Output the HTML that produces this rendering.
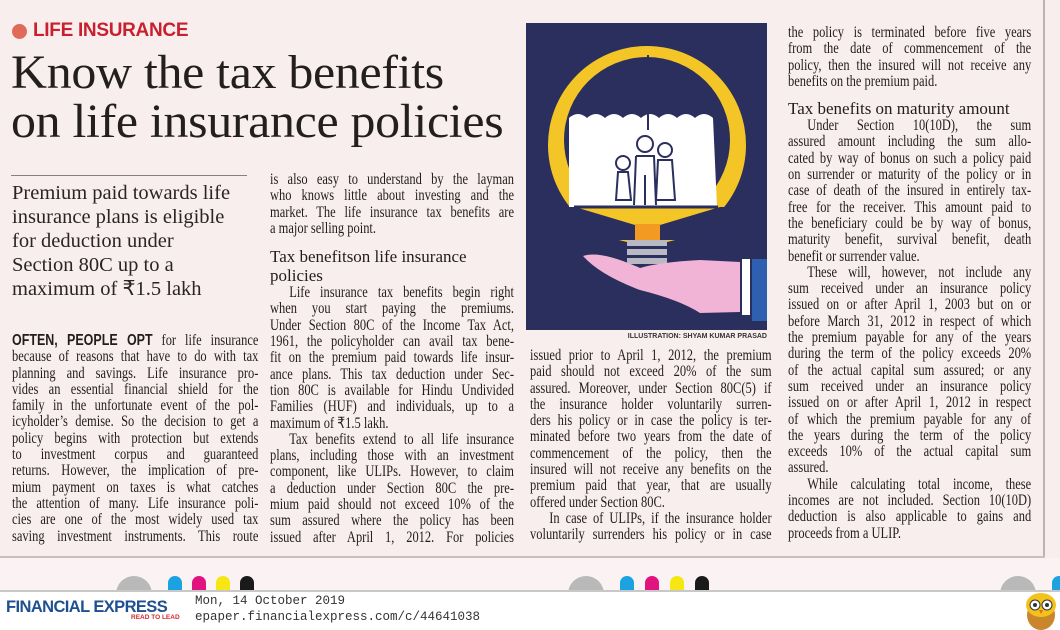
<!DOCTYPE html>
<html><head><meta charset="utf-8"><style>
*{margin:0;padding:0;box-sizing:border-box}
body{width:1060px;height:630px;overflow:hidden;background:#f9eeee;position:relative;font-family:"Liberation Serif",serif;color:#2a2424}
.abs{position:absolute}
.col{position:absolute;transform:scaleX(0.8);transform-origin:0 0;font-size:15.6px;line-height:16.3px;color:#221c1c}
.col div{white-space:nowrap}
.j{text-align:justify;text-align-last:justify}
.ind{text-indent:24px}
h1{position:absolute;left:11px;top:48px;font-weight:normal;font-size:48px;line-height:49px;color:#231f1f;transform:scaleX(1.04);transform-origin:0 0;white-space:nowrap;letter-spacing:-0.3px}
.stand{position:absolute;left:12px;top:181px;font-size:20.5px;line-height:24px;color:#2a2424;white-space:nowrap}
.hd{font-size:17px;line-height:19px;transform:scaleX(1.25);transform-origin:0 0}
</style></head><body>
<div class="abs" style="left:1043px;top:0;width:2px;height:557px;background:#bdb3b3"></div>
<div class="abs" style="left:0;top:556px;width:1045px;height:2px;background:#c9bfbf"></div>
<div class="abs" style="left:0;top:558px;width:1060px;height:32px;background:#fbf3f3"></div>

<div class="abs" style="left:12px;top:24px;width:15px;height:15px;border-radius:50%;background:#e06a5a"></div>
<div class="abs" style="left:33px;top:20px;font-family:'Liberation Sans',sans-serif;font-weight:bold;font-size:19px;color:#c8202e;letter-spacing:-0.3px">LIFE INSURANCE</div>
<h1>Know the tax benefits<br>on life insurance policies</h1>

<div class="abs" style="left:11px;top:175px;width:236px;height:1px;background:#8a8080"></div>
<div class="stand">Premium paid towards life<br>insurance plans is eligible<br>for deduction under<br>Section 80C up to a<br>maximum of ₹1.5 lakh</div>

<div class="col" style="left:12px;top:333px;width:308px">
<div class="j"><b style="font-family:'Liberation Sans',sans-serif">OFTEN, PEOPLE OPT</b> for life insurance</div>
<div class="j">because of reasons that have to do with tax</div>
<div class="j">planning and savings. Life insurance pro-</div>
<div class="j">vides an essential financial shield for the</div>
<div class="j">family in the unfortunate event of the pol-</div>
<div class="j">icyholder’s demise. So the decision to get a</div>
<div class="j">policy begins with protection but extends</div>
<div class="j">to investment corpus and guaranteed</div>
<div class="j">returns. However, the implication of pre-</div>
<div class="j">mium payment on taxes is what catches</div>
<div class="j">the attention of many. Life insurance poli-</div>
<div class="j">cies are one of the most widely used tax</div>
<div class="j">saving investment instruments. This route</div>
</div>

<div class="col" style="left:270px;top:172px;width:305px">
<div class="j">is also easy to understand by the layman</div>
<div class="j">who knows little about investing and the</div>
<div class="j">market. The life insurance tax benefits are</div>
<div>a major selling point.</div>
<div class="hd" style="margin-top:10px">Tax benefitson life insurance</div>
<div class="hd">policies</div>
<div class="j ind">Life insurance tax benefits begin right</div>
<div class="j">when you start paying the premiums.</div>
<div class="j">Under Section 80C of the Income Tax Act,</div>
<div class="j">1961, the policyholder can avail tax bene-</div>
<div class="j">fit on the premium paid towards life insur-</div>
<div class="j">ance plans. This tax deduction under Sec-</div>
<div class="j">tion 80C is available for Hindu Undivided</div>
<div class="j">Families (HUF) and individuals, up to a</div>
<div>maximum of ₹1.5 lakh.</div>
<div class="j ind">Tax benefits extend to all life insurance</div>
<div class="j">plans, including those with an investment</div>
<div class="j">component, like ULIPs. However, to claim</div>
<div class="j">a deduction under Section 80C the pre-</div>
<div class="j">mium paid should not exceed 10% of the</div>
<div class="j">sum assured where the policy has been</div>
<div class="j">issued after April 1, 2012. For policies</div>
</div>

<svg class="abs" style="left:526px;top:23px" width="241" height="308" viewBox="526 23 241 308">
<rect x="526" y="23" width="241" height="307" fill="#2b2f5e"/>
<circle cx="647" cy="145" r="99" fill="#f4c526"/>
<circle cx="647" cy="140" r="83" fill="#2b2f5e"/>
<path d="M569 207 L569 118 q9 -8 18 0 q9 -8 18 0 q9 -8 18 0 q9 -8 18 0 q9 -8 18 0 q9 -8 18 0 q9 -8 18 0 q9 -8 18 0 L717 207 Z" fill="#fff"/>
<path d="M560 207 L735 207 L730 230 L700 240 L590 240 L565 230 Z" fill="#2b2f5e"/>
<path d="M575 207 L720 207 L660 225 L635 225 Z" fill="#f4c526"/>
<line x1="648" y1="55" x2="648" y2="130" stroke="#2b2f5e" stroke-width="2"/>
<line x1="574" y1="207" x2="718" y2="207" stroke="#2b2f5e" stroke-width="3"/>
<g fill="none" stroke="#2b2f5e" stroke-width="2">
<circle cx="623" cy="163" r="7"/><path d="M616 200 L618 172 L628 172 L631 200 Z"/>
<circle cx="645" cy="144" r="8"/><path d="M636 156 L654 156 L656 205 M636 156 L634 205 M645 175 L645 205"/>
<circle cx="665" cy="150" r="7"/><path d="M658 160 L672 160 L675 200 L656 200 Z"/>
</g>
<rect x="635" y="224" width="25" height="16" fill="#f39a22"/>
<rect x="627" y="240" width="40" height="6" fill="#b9b9c4"/>
<rect x="627" y="249" width="40" height="6" fill="#b9b9c4"/>
<rect x="627" y="258" width="40" height="6" fill="#b9b9c4"/>
<path d="M583 256 Q600 250 640 268 Q660 262 700 260 L740 262 L740 312 L700 313 Q680 300 640 290 Q600 275 583 256 Z" fill="#f1b3d6"/>
<rect x="742" y="259" width="8" height="56" fill="#fff"/>
<rect x="752" y="259" width="15" height="62" fill="#2f5fb0"/>
</svg>
<div class="abs" style="left:560px;top:333px;width:207px;text-align:right;font-family:'Liberation Sans',sans-serif;font-weight:bold;font-size:7px;color:#333">ILLUSTRATION: SHYAM KUMAR PRASAD</div>

<div class="col" style="left:530px;top:348px;width:302px">
<div class="j">issued prior to April 1, 2012, the premium</div>
<div class="j">paid should not exceed 20% of the sum</div>
<div class="j">assured. Moreover, under Section 80C(5) if</div>
<div class="j">the insurance holder voluntarily surren-</div>
<div class="j">ders his policy or in case the policy is ter-</div>
<div class="j">minated before two years from the date of</div>
<div class="j">commencement of the policy, then the</div>
<div class="j">insured will not receive any benefits on the</div>
<div class="j">premium paid that year, that are usually</div>
<div>offered under Section 80C.</div>
<div class="j ind">In case of ULIPs, if the insurance holder</div>
<div class="j">voluntarily surrenders his policy or in case</div>
</div>

<div class="col" style="left:788px;top:25px;width:304px">
<div class="j">the policy is terminated before five years</div>
<div class="j">from the date of commencement of the</div>
<div class="j">policy, then the insured will not receive any</div>
<div>benefits on the premium paid.</div>
<div class="hd" style="margin-top:9px">Tax benefits on maturity amount</div>
<div class="j ind">Under Section 10(10D), the sum</div>
<div class="j">assured amount including the sum allo-</div>
<div class="j">cated by way of bonus on such a policy paid</div>
<div class="j">on surrender or maturity of the policy or in</div>
<div class="j">case of death of the insured in entirely tax-</div>
<div class="j">free for the receiver. This amount paid to</div>
<div class="j">the beneficiary could be by way of bonus,</div>
<div class="j">maturity benefit, survival benefit, death</div>
<div>benefit or surrender value.</div>
<div class="j ind">These will, however, not include any</div>
<div class="j">sum received under an insurance policy</div>
<div class="j">issued on or after April 1, 2003 but on or</div>
<div class="j">before March 31, 2012 in respect of which</div>
<div class="j">the premium payable for any of the years</div>
<div class="j">during the term of the policy exceeds 20%</div>
<div class="j">of the actual capital sum assured; or any</div>
<div class="j">sum received under an insurance policy</div>
<div class="j">issued on or after April 1, 2012 in respect</div>
<div class="j">of which the premium payable for any of</div>
<div class="j">the years during the term of the policy</div>
<div class="j">exceeds 10% of the actual capital sum</div>
<div>assured.</div>
<div class="j ind">While calculating total income, these</div>
<div class="j">incomes are not included. Section 10(10D)</div>
<div class="j">deduction is also applicable to gains and</div>
<div>proceeds from a ULIP.</div>
</div>

<div class="abs" style="left:116px;top:576px;width:36px;height:20px;border-radius:18px 18px 0 0;background:#b9b9b9"></div>
<div class="abs" style="left:168px;top:576px;width:14px;height:16px;border-radius:7px 7px 0 0;background:#1aa3e0"></div>
<div class="abs" style="left:192px;top:576px;width:14px;height:16px;border-radius:7px 7px 0 0;background:#e0137f"></div>
<div class="abs" style="left:216px;top:576px;width:14px;height:16px;border-radius:7px 7px 0 0;background:#f5e614"></div>
<div class="abs" style="left:240px;top:576px;width:14px;height:16px;border-radius:7px 7px 0 0;background:#1a1a1a"></div>
<div class="abs" style="left:568px;top:576px;width:36px;height:20px;border-radius:18px 18px 0 0;background:#b9b9b9"></div>
<div class="abs" style="left:620px;top:576px;width:14px;height:16px;border-radius:7px 7px 0 0;background:#1aa3e0"></div>
<div class="abs" style="left:645px;top:576px;width:14px;height:16px;border-radius:7px 7px 0 0;background:#e0137f"></div>
<div class="abs" style="left:670px;top:576px;width:14px;height:16px;border-radius:7px 7px 0 0;background:#f5e614"></div>
<div class="abs" style="left:695px;top:576px;width:14px;height:16px;border-radius:7px 7px 0 0;background:#1a1a1a"></div>
<div class="abs" style="left:1000px;top:576px;width:36px;height:20px;border-radius:18px 18px 0 0;background:#b9b9b9"></div>
<div class="abs" style="left:1052px;top:576px;width:14px;height:16px;border-radius:7px 7px 0 0;background:#1aa3e0"></div>

<div class="abs" style="left:0;top:590px;width:1060px;height:40px;background:#fff;border-top:2px solid #c8c8c8"></div>
<div class="abs" style="left:6px;top:597px;font-family:'Liberation Sans',sans-serif;font-weight:bold;font-size:17px;color:#1d4f91;letter-spacing:-0.6px;transform:scaleX(0.97);transform-origin:0 0">FINANCIAL EXPRESS</div>
<div class="abs" style="left:131px;top:614px;font-family:'Liberation Sans',sans-serif;font-weight:bold;font-size:6.5px;color:#d12a2a">READ TO LEAD</div>
<div class="abs" style="left:195px;top:593px;font-family:'Liberation Mono',monospace;font-size:12.5px;line-height:16px;color:#333">Mon, 14 October 2019<br>epaper.financialexpress.com/c/44641038</div>
<svg class="abs" style="left:1024px;top:591px" width="34" height="39">
<ellipse cx="17" cy="24" rx="14" ry="15" fill="#c9862b"/>
<ellipse cx="17" cy="14" rx="15" ry="12" fill="#f3c21c"/>
<circle cx="11" cy="14" r="5" fill="#fff" stroke="#333"/><circle cx="23" cy="14" r="5" fill="#fff" stroke="#333"/>
<circle cx="11" cy="14" r="2" fill="#333"/><circle cx="23" cy="14" r="2" fill="#333"/>
<path d="M15 19 L17 23 L19 19 Z" fill="#e76b1a"/>
</svg>
</body></html>
